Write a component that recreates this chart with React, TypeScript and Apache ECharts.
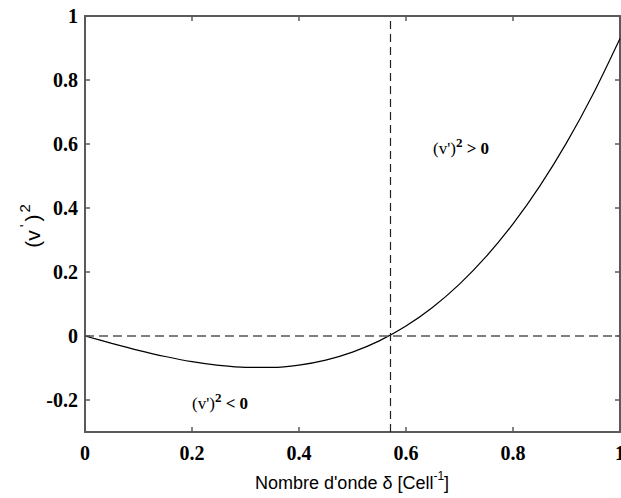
import React, { useEffect, useRef } from "react";
import * as echarts from "echarts";

// Wave number δ (Cell^-1) and the squared growth term (v')^2
const waveNumber = [0, 0.05, 0.1, 0.15, 0.2, 0.25, 0.3, 0.35, 0.4, 0.45, 0.5, 0.55, 0.6, 0.65, 0.7, 0.75, 0.8, 0.85, 0.9, 0.95, 1.0];
const vPrimeSquared = [0, -0.023, -0.0447, -0.064, -0.0801, -0.0918, -0.0982, -0.0982, -0.091, -0.0754, -0.0505, -0.0153, 0.0312, 0.09, 0.1621, 0.2486, 0.3502, 0.4683, 0.6035, 0.7572, 0.93];

// Critical wave number where (v')^2 changes sign
const criticalWaveNumber = 0.568;

const xTicks = [0, 0.2, 0.4, 0.6, 0.8, 1];
const yTicks = [-0.2, 0, 0.2, 0.4, 0.6, 0.8, 1];

const WIDTH = 621;
const HEIGHT = 498;
const AXIS_COLOR = "#5a5a5a";
const SERIF = "'Liberation Serif', 'Times New Roman', serif";
const SANS = "'Liberation Sans', Arial, sans-serif";

export default function App() {
  const ref = useRef<HTMLDivElement>(null);

  useEffect(() => {
    document.documentElement.style.overflow = "hidden";
    document.body.style.margin = "0";
    document.body.style.overflow = "hidden";
    if (!ref.current) return;
    const chart = echarts.init(ref.current, null, { renderer: "svg", width: WIDTH, height: HEIGHT });

    const tickLabel = {
      fontFamily: SERIF,
      fontWeight: "bold" as const,
      fontSize: 20,
      color: "#000",
    };
    const axisLine = { show: true, onZero: false, lineStyle: { color: AXIS_COLOR, width: 2 } };
    const axisTick = { show: true, inside: true, length: 5, lineStyle: { color: AXIS_COLOR, width: 1.5 } };

    const xTitleRich = {
      n: { fontFamily: SANS, fontSize: 18, color: "#000", lineHeight: 26 },
      s: { fontFamily: SANS, fontSize: 12, color: "#000", lineHeight: 12, verticalAlign: "top" as const },
    };
    const yTitleRich = {
      n: { fontFamily: SANS, fontSize: 21, color: "#000", lineHeight: 30 },
      p: { fontFamily: SANS, fontSize: 15, color: "#000", lineHeight: 15, verticalAlign: "top" as const, padding: [0, 3, 0, 3] },
      s: { fontFamily: SANS, fontSize: 15, color: "#000", lineHeight: 15, verticalAlign: "top" as const, padding: [0, 0, 0, 2] },
    };
    const noteRich = {
      a: { fontFamily: SERIF, fontSize: 17, color: "#000", lineHeight: 24 },
      b: { fontFamily: SERIF, fontSize: 13, fontWeight: "bold" as const, color: "#000", lineHeight: 13, verticalAlign: "top" as const },
      c: { fontFamily: SERIF, fontSize: 17, fontWeight: "bold" as const, color: "#000", lineHeight: 24 },
    };

    chart.setOption({
      animation: false,
      backgroundColor: "#fff",
      grid: { left: 85, right: 1, top: 16, bottom: 66, containLabel: false, outerBoundsMode: "none" },
      xAxis: [
        {
          type: "value",
          position: "bottom",
          min: 0,
          max: 1,
          interval: 0.2,
          axisLine,
          axisTick,
          splitLine: { show: false },
          axisLabel: { ...tickLabel, margin: 11, customValues: xTicks },
        },
        {
          type: "value",
          position: "top",
          min: 0,
          max: 1,
          interval: 0.2,
          axisLine,
          axisTick,
          splitLine: { show: false },
          axisLabel: { show: false },
        },
      ],
      yAxis: [
        {
          type: "value",
          position: "left",
          min: -0.3,
          max: 1,
          axisLine,
          axisTick: { ...axisTick, customValues: yTicks },
          splitLine: { show: false },
          axisLabel: { ...tickLabel, margin: 7, customValues: yTicks },
        },
        {
          type: "value",
          position: "right",
          min: -0.3,
          max: 1,
          axisLine,
          axisTick: { ...axisTick, customValues: yTicks },
          splitLine: { show: false },
          axisLabel: { show: false },
        },
      ],
      series: [
        {
          type: "line",
          data: waveNumber.map((x, i) => [x, vPrimeSquared[i]]),
          smooth: 0.3,
          showSymbol: false,
          lineStyle: { color: "#000", width: 1.2 },
          z: 3,
          markLine: {
            silent: true,
            symbol: "none",
            label: { show: false },
            data: [
              { yAxis: 0, lineStyle: { color: "#555", width: 1.5, type: [9, 5] } },
              { xAxis: criticalWaveNumber, lineStyle: { color: "#222", width: 1.2, type: [8, 5] } },
            ],
          },
        },
      ],
      graphic: [
        {
          type: "text",
          x: 352,
          y: 483,
          style: {
            text: "{n|Nombre d'onde δ [Cell}{s|-1}{n|]}",
            rich: xTitleRich,
            align: "center",
            verticalAlign: "middle",
          },
        },
        {
          type: "text",
          x: 32,
          y: 226,
          rotation: Math.PI / 2,
          style: {
            text: "{n|(v}{p|'}{n|)}{s|2}",
            rich: yTitleRich,
            align: "center",
            verticalAlign: "middle",
          },
        },
        {
          type: "text",
          x: 433,
          y: 148,
          style: { text: "{a|(v')}{b|2}{c| > 0}", rich: noteRich, verticalAlign: "middle" },
        },
        {
          type: "text",
          x: 192,
          y: 403,
          style: { text: "{a|(v')}{b|2}{c| < 0}", rich: noteRich, verticalAlign: "middle" },
        },
      ],
    });

    return () => chart.dispose();
  }, []);

  return <div ref={ref} style={{ position: "absolute", left: 0, top: 0, width: WIDTH, height: HEIGHT }} />;
}
